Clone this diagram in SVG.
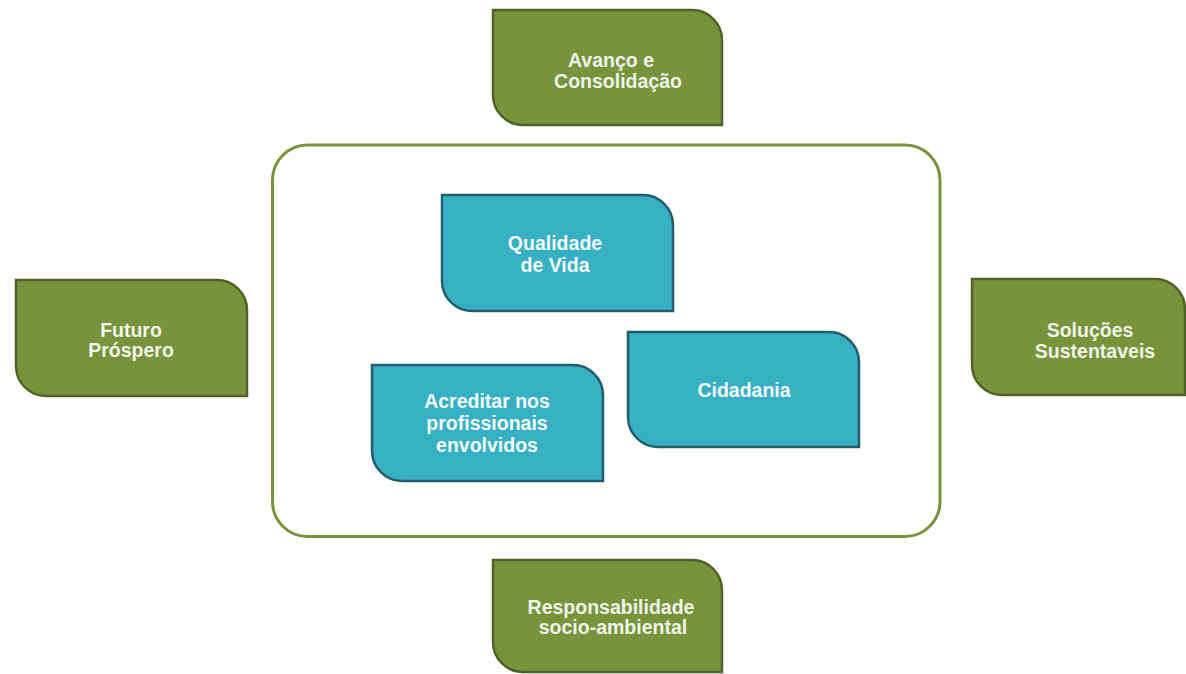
<svg xmlns="http://www.w3.org/2000/svg" width="1186" height="674" viewBox="0 0 1186 674">
  <style>
    .green { fill: #77933c; stroke: #4f6228; stroke-width: 2.5; }
    .blue { fill: #38b0c3; stroke: #215d6b; stroke-width: 2.5; }
    .frame { fill: #ffffff; stroke: #77933c; stroke-width: 3; }
    .label { font-family: "Liberation Sans", Arial, sans-serif; font-weight: bold; font-size: 19.5px; text-anchor: middle; }
    .green-label { fill: #f2f5ea; }
    .blue-label { fill: #f4fbfc; }
  </style>
  <rect width="1186" height="674" fill="#ffffff"/>

  <!-- outer frame around the inner values -->
  <g id="frame">
    <rect class="frame" x="272.5" y="145" width="667.5" height="391.5" rx="35" ry="35"/>
  </g>

  <!-- boxes: square top-left / bottom-right, rounded top-right / bottom-left -->
  <g id="avanco">
    <path class="green" d="M493 10 H692 A30 30 0 0 1 722 40 V125 H523 A30 30 0 0 1 493 95 Z"/>
    <text class="label green-label" x="611" y="67">Avanço e</text>
    <text class="label green-label" x="618" y="88">Consolidação</text>
  </g>

  <g id="futuro">
    <path class="green" d="M16 280 H217 A30 30 0 0 1 247 310 V396 H46 A30 30 0 0 1 16 366 Z"/>
    <text class="label green-label" x="131" y="337">Futuro</text>
    <text class="label green-label" x="131" y="357">Próspero</text>
  </g>

  <g id="solucoes">
    <path class="green" d="M972 279 H1155 A30 30 0 0 1 1185 309 V395 H1002 A30 30 0 0 1 972 365 Z"/>
    <text class="label green-label" x="1090" y="337">Soluções</text>
    <text class="label green-label" x="1095" y="358">Sustentaveis</text>
  </g>

  <g id="responsabilidade">
    <path class="green" d="M493 560 H692 A30 30 0 0 1 722 590 V672 H523 A30 30 0 0 1 493 642 Z"/>
    <text class="label green-label" x="611" y="614">Responsabilidade</text>
    <text class="label green-label" x="613" y="634">socio-ambiental</text>
  </g>

  <g id="qualidade">
    <path class="blue" d="M442 195 H643 A30 30 0 0 1 673 225 V311 H472 A30 30 0 0 1 442 281 Z"/>
    <text class="label blue-label" x="555" y="250">Qualidade</text>
    <text class="label blue-label" x="555" y="272">de Vida</text>
  </g>

  <g id="cidadania">
    <path class="blue" d="M628 332 H829 A30 30 0 0 1 859 362 V447 H658 A30 30 0 0 1 628 417 Z"/>
    <text class="label blue-label" x="744" y="397">Cidadania</text>
  </g>

  <g id="acreditar">
    <path class="blue" d="M372 365 H573 A30 30 0 0 1 603 395 V481 H402 A30 30 0 0 1 372 451 Z"/>
    <text class="label blue-label" x="487" y="408">Acreditar nos</text>
    <text class="label blue-label" x="487" y="430">profissionais</text>
    <text class="label blue-label" x="487" y="452">envolvidos</text>
  </g>

  <!-- no connectors are drawn between the boxes -->
  <g id="connectors"/>
</svg>
